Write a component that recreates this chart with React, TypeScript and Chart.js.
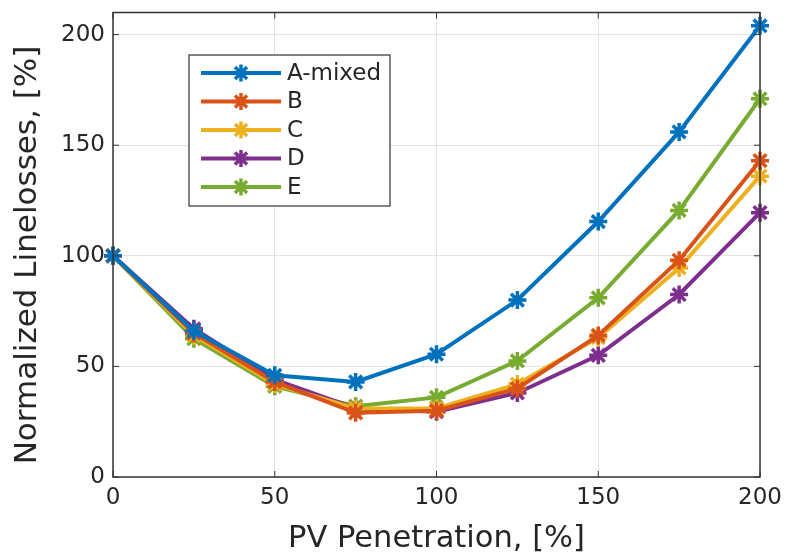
import React, { useEffect, useRef } from "react";
import { Chart, registerables } from "chart.js";

Chart.register(...registerables);

const penetration = [0, 25, 50, 75, 100, 125, 150, 175, 200];
const seriesNames = ["A-mixed", "B", "C", "D", "E"];
const seriesA = [100, 66, 46, 43, 55.5, 80, 115.5, 156, 204];
const seriesB = [100, 65, 43, 29, 30, 40, 64, 98, 143];
const seriesC = [100, 64, 42, 31, 31, 42, 63, 94.5, 136];
const seriesD = [100, 67, 44, 31, 29.5, 38, 55, 82.5, 119.5];
const seriesE = [100, 62.5, 41, 32, 36, 52.5, 81, 120.5, 171];
const colors = ["#0072BD", "#D95319", "#EDB120", "#7E2F8E", "#77AC30"];
const xTicks = [0, 50, 100, 150, 200];
const yTicks = [0, 50, 100, 150, 200];
const yTitle = "Normalized Linelosses, [%]";

const TEXT = "#262626";
const FONT = "'DejaVu Sans', sans-serif";

export default function App() {
  const ref = useRef<HTMLCanvasElement | null>(null);
  useEffect(() => {
    const all = [seriesA, seriesB, seriesC, seriesD, seriesE];
    const frame = {
      id: "frame",
      afterDraw(chart: any) {
        const { ctx, chartArea: a, scales } = chart;
        ctx.save();
        ctx.strokeStyle = "#333333";
        ctx.lineWidth = 1.5;
        ctx.strokeRect(a.left, a.top, a.right - a.left, a.bottom - a.top);
        ctx.lineWidth = 1;
        const tl = 6;
        xTicks.forEach((v) => {
          const x = scales.x.getPixelForValue(v);
          ctx.beginPath();
          ctx.moveTo(x, a.bottom);
          ctx.lineTo(x, a.bottom - tl);
          ctx.moveTo(x, a.top);
          ctx.lineTo(x, a.top + tl);
          ctx.stroke();
        });
        yTicks.forEach((v) => {
          const y = scales.y.getPixelForValue(v);
          ctx.beginPath();
          ctx.moveTo(a.left, y);
          ctx.lineTo(a.left + tl, y);
          ctx.moveTo(a.right, y);
          ctx.lineTo(a.right - tl, y);
          ctx.stroke();
        });
        // y title
        ctx.save();
        ctx.translate(28, 255);
        ctx.rotate(-Math.PI / 2);
        ctx.font = `31px ${FONT}`;
        ctx.fillStyle = TEXT;
        ctx.textAlign = "center";
        ctx.textBaseline = "middle";
        ctx.fillText(yTitle, 0, 0);
        ctx.restore();
        // legend
        const bx = 189, by = 55, bw = 201, bh = 151;
        ctx.fillStyle = "#ffffff";
        ctx.fillRect(bx, by, bw, bh);
        ctx.strokeStyle = "#333333";
        ctx.lineWidth = 1.2;
        ctx.strokeRect(bx, by, bw, bh);
        ctx.font = `23px ${FONT}`;
        ctx.textBaseline = "middle";
        ctx.textAlign = "left";
        seriesNames.forEach((name, i) => {
          const y = by + 18 + i * 28.5;
          ctx.strokeStyle = colors[i];
          ctx.lineWidth = 4;
          ctx.beginPath();
          ctx.moveTo(bx + 12, y);
          ctx.lineTo(bx + 92, y);
          ctx.stroke();
          ctx.lineWidth = 3.5;
          const r = 8.5;
          const cx = bx + 52;
          ctx.beginPath();
          for (let k = 0; k < 4; k++) {
            const ang = (k * Math.PI) / 4;
            ctx.moveTo(cx - r * Math.cos(ang), y - r * Math.sin(ang));
            ctx.lineTo(cx + r * Math.cos(ang), y + r * Math.sin(ang));
          }
          ctx.stroke();
          ctx.fillStyle = TEXT;
          ctx.fillText(name, bx + 98, y + 1);
        });
        ctx.restore();
      },
    };
    const chart = new Chart(ref.current as HTMLCanvasElement, {
      type: "line",
      data: {
        datasets: all.map((s, i) => ({
          label: seriesNames[i],
          data: s.map((v, j) => ({ x: penetration[j], y: v })),
          borderColor: colors[i],
          backgroundColor: colors[i],
          borderWidth: 4,
          pointStyle: "star",
          pointRadius: 9,
          pointBorderWidth: 3.5,
          pointBorderColor: colors[i],
          tension: 0,
          clip: false as any,
        })),
      },
      options: {
        animation: false,
        responsive: false,
        layout: { padding: { top: 10, right: 28, left: 0, bottom: 0 } },
        plugins: { legend: { display: false }, tooltip: { enabled: false } },
        scales: {
          x: {
            type: "linear",
            min: 0,
            max: 200,
            afterFit: (s: any) => {
              s.height = 559 - 477;
              s.paddingLeft = 0;
              s.paddingRight = 0;
            },
            afterBuildTicks: (s: any) => {
              s.ticks = xTicks.map((v) => ({ value: v }));
            },
            grid: { color: "#e3e3e3", lineWidth: 1, drawTicks: false },
            border: { display: false },
            ticks: {
              color: TEXT,
              font: { family: FONT, size: 23 },
              padding: 7,
              maxRotation: 0,
            },
            title: {
              display: true,
              text: "PV Penetration, [%]",
              color: TEXT,
              font: { family: FONT, size: 30.5 },
              padding: { top: 0, bottom: 2 },
            },
          },
          y: {
            type: "linear",
            min: 0,
            max: 210,
            afterFit: (s: any) => {
              s.width = 113;
              s.paddingTop = 0;
              s.paddingBottom = 0;
            },
            afterBuildTicks: (s: any) => {
              s.ticks = yTicks.map((v) => ({ value: v }));
            },
            grid: { color: "#e3e3e3", lineWidth: 1, drawTicks: false },
            border: { display: false },
            ticks: {
              color: TEXT,
              font: { family: FONT, size: 23 },
              padding: 8,
            },
            title: { display: false },
          },
        },
      },
      plugins: [frame],
    });
    return () => chart.destroy();
  }, []);
  return (
    <div style={{ position: "fixed", left: 0, top: 0, width: 788, height: 559, background: "#fff" }}>
      <canvas ref={ref} width={788} height={559} style={{ width: 788, height: 559 }} />
    </div>
  );
}
